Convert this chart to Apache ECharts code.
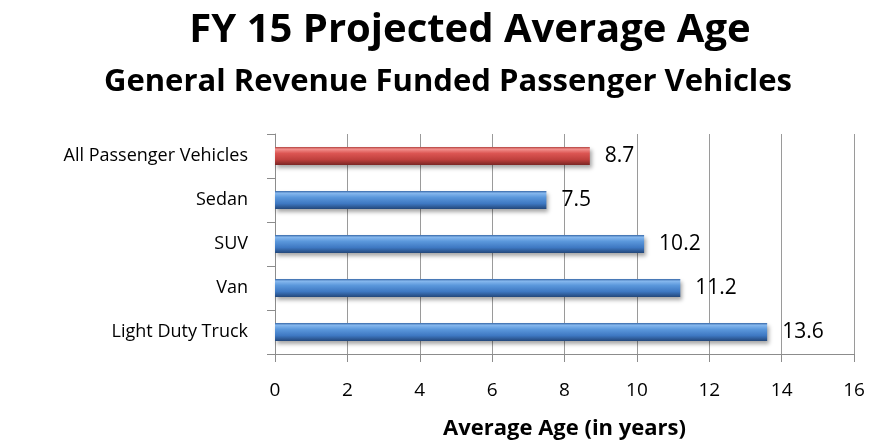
<!DOCTYPE html>
<html>
<head>
<meta charset="utf-8">
<script src="https://cdn.jsdelivr.net/npm/echarts@6/dist/echarts.min.js"></script>
<style>html,body{margin:0;padding:0;background:#fff}#c{width:870px;height:443px}</style>
</head>
<body>
<div id="c"></div>
<script>
const categories = ['Light Duty Truck', 'Van', 'SUV', 'Sedan', 'All Passenger Vehicles'];
const values = [13.6, 11.2, 10.2, 7.5, 8.7];
const highlightIndex = 4;
const xTicks = [0, 2, 4, 6, 8, 10, 12, 14, 16];
const titleText = 'FY 15 Projected Average Age';
const subtitleText = 'General Revenue Funded Passenger Vehicles';
const xAxisName = 'Average Age (in years)';

const FONT = '"Open Sans", "Noto Sans", sans-serif';
const blueGrad = new echarts.graphic.LinearGradient(0, 0, 0, 1, [
  {offset: 0, color: '#3566a6'},
  {offset: 0.12, color: '#86b8ee'},
  {offset: 0.35, color: '#5b98dc'},
  {offset: 0.7, color: '#3e78c2'},
  {offset: 1, color: '#23477a'}
]);
const redGrad = new echarts.graphic.LinearGradient(0, 0, 0, 1, [
  {offset: 0, color: '#b2423f'},
  {offset: 0.12, color: '#f2908d'},
  {offset: 0.35, color: '#dc5653'},
  {offset: 0.7, color: '#bf403d'},
  {offset: 1, color: '#7a2624'}
]);

const chart = echarts.init(document.getElementById('c'), null, {renderer: 'canvas'});
chart.setOption({
  animation: false,
  backgroundColor: '#ffffff',
  title: [
    {text: titleText, left: 465, textAlign: 'center', top: 6,
     textStyle: {fontFamily: FONT, fontWeight: 'bold', fontSize: 40, color: '#000'}},
    {text: subtitleText, left: 443, textAlign: 'center', top: 62,
     textStyle: {fontFamily: FONT, fontWeight: 'bold', fontSize: 31, color: '#000'}}
  ],
  grid: {left: 275, right: 16, top: 134, bottom: 89, containLabel: false},
  xAxis: {
    type: 'value', min: xTicks[0], max: xTicks[xTicks.length - 1], interval: 2,
    name: xAxisName, nameLocation: 'middle', nameGap: 64,
    nameTextStyle: {fontFamily: FONT, fontWeight: 'bold', fontSize: 22, color: '#000'},
    axisLine: {show: true, lineStyle: {color: '#8c8c8c', width: 1}},
    axisTick: {show: true, length: 8, lineStyle: {color: '#8c8c8c'}},
    axisLabel: {fontFamily: FONT, fontSize: 19, color: '#000', margin: 27},
    splitLine: {show: true, lineStyle: {color: '#9a9a9a', width: 1}}
  },
  yAxis: {
    type: 'category', data: categories,
    axisLine: {show: true, lineStyle: {color: '#8c8c8c', width: 1}},
    axisTick: {show: true, length: 8, alignWithLabel: false, lineStyle: {color: '#8c8c8c'}},
    axisLabel: {fontFamily: FONT, fontSize: 18, color: '#000', margin: 27},
    splitLine: {show: false}
  },
  series: [{
    type: 'bar',
    data: values.map((v, i) => ({
      value: v,
      itemStyle: {color: i === highlightIndex ? redGrad : blueGrad}
    })),
    barWidth: 18,
    itemStyle: {
      shadowColor: 'rgba(0,0,0,0.35)', shadowBlur: 4, shadowOffsetX: 2, shadowOffsetY: 3
    },
    label: {
      show: true, position: 'right', distance: 15,
      fontFamily: FONT, fontSize: 21, color: '#000',
      formatter: p => p.value.toFixed(1)
    }
  }]
});
</script>
</body>
</html>
